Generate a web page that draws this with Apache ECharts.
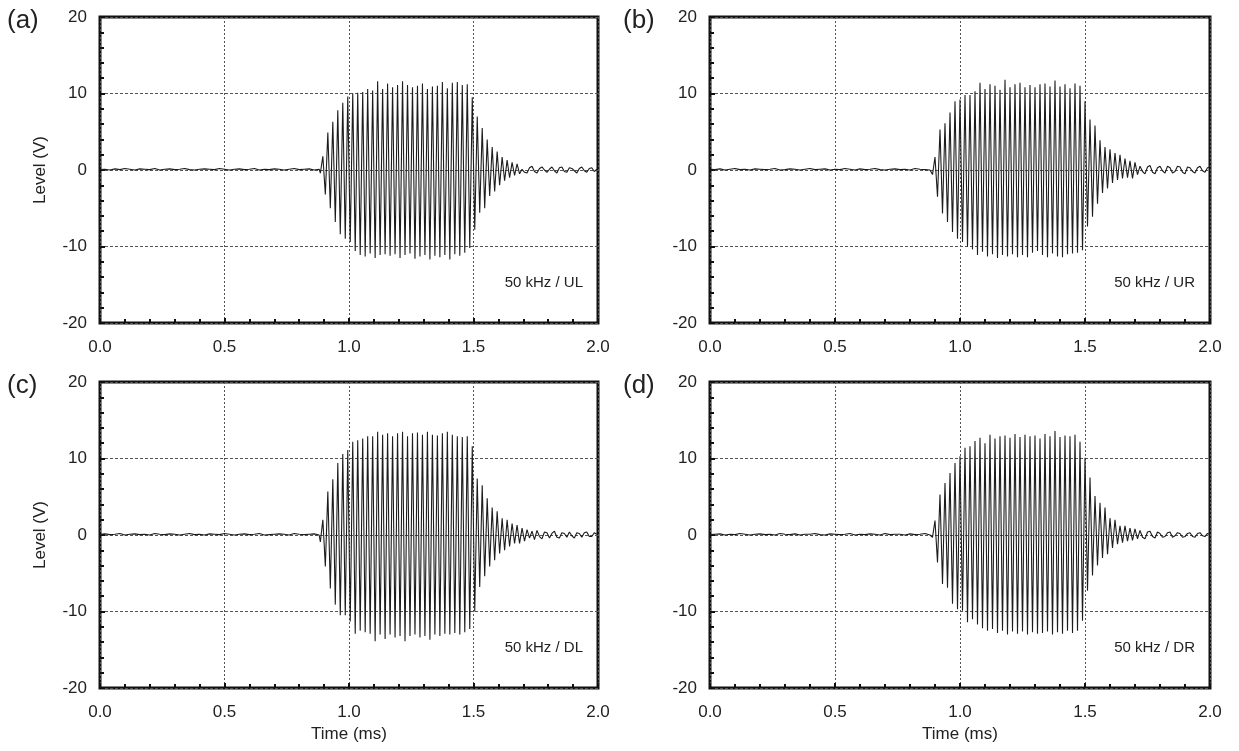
<!DOCTYPE html>
<html><head><meta charset="utf-8">
<script src="https://cdn.jsdelivr.net/npm/echarts@6/dist/echarts.min.js"></script>
<style>html,body{margin:0;padding:0;background:#fff}#c{width:1239px;height:751px}</style>
</head><body><div id="c"></div><script>
// ---- data (Level in V, time in ms) ----
const xTicks = [0.0, 0.5, 1.0, 1.5, 2.0];
const yTicks = [-20, -10, 0, 10, 20];
const panelLetters = ['(a)', '(b)', '(c)', '(d)'];
const panelNotes = ['50 kHz / UL', '50 kHz / UR', '50 kHz / DL', '50 kHz / DR'];
const noiseStep = 0.02;   // spacing of the pre-burst baseline samples (ms)
const sampleStep = 0.01;  // half period of the 50 kHz carrier (ms): one sample per peak / trough

// panel (a) UL
const noiseA = [0.05,0.1,0,0.15,0.05,0.2,0.1,0,0.15,0.1,0.05,0.2,0,0.1,0.15,0.05,0.1,0.2,0.05,0,0.1,0.15,0.1,0.05,0.2,0.1,0,0.1,0.15,0.05,0.1,0.2,0,0.1,0.05,0.15,0.1,0,0.1,0.2,0.05,0.1,0.15,0,0.1];
const startA = 0.885;
const burstA = [-0.4,1.8,-3.2,4.9,-5.0,6.3,-6.8,7.8,-8.4,8.8,-9.0,9.6,-9.4,10.0,-10.6,10.1,-11.1,10.2,-11.3,10.6,
 -10.9,10.4,-11.5,11.6,-11.1,10.6,-11.0,11.3,-11.2,10.8,-11.0,11.1,-11.5,11.6,-11.1,11.1,-10.9,10.8,-11.6,11.0,
 -11.3,11.3,-11.1,10.6,-11.7,10.9,-11.2,11.0,-11.4,11.5,-11.1,10.7,-11.7,11.4,-11.0,11.5,-11.2,11.1,-10.8,11.2,
 -10.2,9.5,-7.8,7.0,-5.6,5.5,-5.0,4.0,-3.4,3.0,-2.8,2.4,-2.0,1.7,-1.4,1.3,-1.0,1.0,-0.7,0.8,-0.5];
const tailA = [0.1,-0.3,-0.4,0.3,0.5,-0.2,-0.4,0.2,0.4,0,-0.3,0.1,0.4,-0.1,-0.4,0.3,0.4,-0.2,-0.3,0.3,0.2,-0.1,-0.4,0.2,0.4,-0.1,-0.3,0.2,0.3,-0.2,0.1];

// panel (b) UR
const noiseB = [0.1,0.05,0.15,0,0.1,0.2,0.05,0.1,0,0.15,0.1,0.05,0.1,0.2,0,0.05,0.15,0.1,0,0.1,0.2,0.05,0.1,0.15,0,0.1,0.05,0.2,0.1,0,0.15,0.05,0.1,0.2,0.05,0,0.1,0.15,0.05,0.1,0,0.2,0.1,0.05,0];
const startB = 0.89;
const burstB = [-0.6,1.7,-3.5,5.3,-5.7,6.1,-6.8,7.5,-8.1,9.0,-9.0,9.2,-9.4,9.8,-10.0,9.8,-10.4,10.3,-11.1,11.4,
 -10.7,10.6,-11.3,11.2,-11.0,11.0,-11.5,10.5,-11.1,11.8,-11.3,10.8,-11.0,11.2,-11.4,11.4,-11.1,10.8,-11.4,11.1,
 -10.8,10.8,-10.6,11.2,-11.1,11.3,-11.4,10.9,-10.9,11.7,-11.3,10.9,-11.4,11.2,-11.0,10.7,-10.9,11.3,-10.8,11.0,
 -10.5,9.0,-7.4,6.6,-6.1,5.8,-4.4,3.9,-3.0,3.0,-2.4,2.7,-1.7,2.2,-1.3,2.0,-1.1,1.5,-1.0,1.2,-1.1];
const tailB = [1.0,-0.6,0.5,-0.2,-0.5,0.4,0.6,-0.3,-0.5,0.3,0.5,-0.1,-0.4,0.5,0.3,-0.4,-0.2,0.5,0.4,-0.3,-0.5,0.4,0.3,-0.2,-0.4,0.3,0.5,-0.1,-0.3,0.3,0.4];

// panel (c) DL
const noiseC = [0.1,0.15,0.05,0.1,0.2,0,0.1,0.15,0.05,0.1,0,0.2,0.1,0.05,0.15,0.1,0,0.1,0.2,0.05,0.1,0,0.15,0.1,0.05,0.2,0.1,0,0.1,0.15,0.05,0.1,0.2,0,0.05,0.1,0.15,0.1,0,0.2,0.1,0.05,0.1,0.15,0];
const startC = 0.885;
const burstC = [-0.9,2.0,-4.1,5.7,-7.0,7.3,-9.1,9.4,-10.5,10.6,-10.5,11.1,-11.3,12.2,-12.9,12.4,-12.5,12.6,-12.7,12.9,
 -12.9,12.9,-13.9,13.5,-13.0,13.1,-13.6,13.3,-13.0,12.9,-13.4,13.3,-13.2,13.5,-13.9,12.9,-13.2,13.3,-13.0,13.4,
 -13.4,13.1,-13.2,13.5,-13.7,13.1,-13.0,13.0,-13.2,13.3,-12.9,13.5,-13.0,13.1,-12.8,12.9,-13.0,12.8,-12.7,12.9,
 -12.3,11.6,-10.0,7.4,-6.8,6.5,-5.4,4.8,-4.1,3.6,-3.3,3.1,-2.4,2.2,-2.0,2.0,-1.5,1.5,-1.1,1.3,-1.1];
const tailC = [0.9,-0.8,0.7,-0.4,0.5,-0.6,0.6,-0.2,-0.5,0.4,0.3,-0.4,0.2,0.5,-0.3,-0.4,0.3,0.2,-0.3,0.4,-0.1,-0.4,0.3,0.2,-0.3,0.3,0.4,-0.2,-0.2,0.3,0.1];

// panel (d) DR
const noiseD = [0.05,0.1,0.15,0,0.1,0.05,0.2,0.1,0,0.1,0.15,0.05,0.1,0,0.2,0.1,0.05,0.15,0,0.1,0.1,0.2,0.05,0,0.15,0.1,0.05,0.1,0.2,0,0.1,0.05,0.15,0.1,0,0.2,0.05,0.1,0.1,0,0.15,0.05,0.1,0.2,0];
const startD = 0.89;
const burstD = [-0.3,1.9,-3.6,5.3,-6.4,6.8,-6.9,8.1,-9.0,9.4,-9.7,10.3,-9.9,11.4,-11.4,11.6,-11.0,12.3,-11.7,12.7,
 -12.2,12.0,-12.5,13.1,-12.3,12.6,-12.8,12.9,-12.5,13.0,-13.0,12.7,-12.6,13.2,-12.9,12.8,-12.6,13.1,-13.0,12.9,
 -12.7,13.0,-12.9,12.6,-12.8,13.2,-12.6,12.9,-13.0,13.6,-12.7,12.8,-12.9,13.0,-12.5,12.9,-12.8,13.1,-12.5,12.2,
 -11.2,10.1,-7.3,7.5,-5.3,5.1,-4.0,4.2,-3.0,3.6,-2.5,2.2,-1.7,2.0,-1.2,1.2,-1.0,1.2,-0.8,0.9,-0.7];
const tailD = [0.8,-0.5,0.6,-0.3,-0.5,0.4,0.5,-0.2,-0.4,0.4,0.2,-0.3,-0.2,0.3,0.4,-0.3,-0.1,0.3,0.2,-0.3,-0.2,0.2,0.3,-0.2,-0.3,0.2,0.3,-0.1,-0.2,0.2,0.1];

// ---- build the point lists ----
function trace(noise, start, burst, tail) {
  const pts = [];
  noise.forEach((v, i) => pts.push([+(i * noiseStep).toFixed(4), v]));
  burst.forEach((v, i) => pts.push([+(start + i * sampleStep).toFixed(4), v]));
  const end = start + (burst.length - 1) * sampleStep;
  tail.forEach((v, i) => pts.push([+(end + (i + 1) * sampleStep).toFixed(4), v]));
  return pts;
}
const traces = [
  trace(noiseA, startA, burstA, tailA),
  trace(noiseB, startB, burstB, tailB),
  trace(noiseC, startC, burstC, tailC),
  trace(noiseD, startD, burstD, tailD)
];

// ---- layout ----
const grids = [
  {left: 100, top: 17, width: 498, height: 306},
  {left: 710, top: 17, width: 500, height: 306},
  {left: 100, top: 382, width: 498, height: 306},
  {left: 710, top: 382, width: 500, height: 306}
];
const FONT = 'Liberation Sans, Arial, sans-serif';
const txt = '#222';

const option = {
  animation: false,
  backgroundColor: '#fff',
  grid: grids.map(g => Object.assign({show: true, borderColor: '#111', borderWidth: 3, backgroundColor: 'transparent'}, g)),
  xAxis: grids.map((g, i) => ({
    type: 'value', gridIndex: i, min: xTicks[0], max: xTicks[xTicks.length - 1], interval: 0.5,
    name: i >= 2 ? 'Time (ms)' : '', nameLocation: 'middle', nameGap: 38,
    nameTextStyle: {fontFamily: FONT, fontSize: 17, color: txt},
    axisLine: {show: false, onZero: false},
    axisTick: {show: true, inside: true, length: 5, lineStyle: {color: '#111', width: 2}},
    minorTick: {show: true, splitNumber: 5, length: 4, lineStyle: {color: '#111', width: 2}},
    splitLine: {show: true, lineStyle: {color: '#555', width: 1, type: [2, 2]}},
    axisLabel: {fontFamily: FONT, fontSize: 17, color: txt, margin: 16, formatter: v => v.toFixed(1)}
  })),
  yAxis: grids.map((g, i) => ({
    type: 'value', gridIndex: i, min: yTicks[0], max: yTicks[yTicks.length - 1], interval: 10,
    name: i % 2 === 0 ? 'Level (V)' : '', nameLocation: 'middle', nameGap: 51,
    nameTextStyle: {fontFamily: FONT, fontSize: 17, color: txt},
    axisLine: {show: false, onZero: false},
    axisTick: {show: true, inside: true, length: 5, lineStyle: {color: '#111', width: 2}},
    minorTick: {show: true, splitNumber: 5, length: 4, lineStyle: {color: '#111', width: 2}},
    splitLine: {show: true, lineStyle: {color: '#555', width: 1, type: [3, 2]}},
    axisLabel: {fontFamily: FONT, fontSize: 17, color: txt, margin: 13}
  })),
  series: traces.map((d, i) => ({
    type: 'line', xAxisIndex: i, yAxisIndex: i, data: d,
    showSymbol: false, symbol: 'none', clip: true, smooth: false,
    lineStyle: {color: '#1c1c1c', width: 1.1}, z: 3
  })),
  graphic: [
    ...panelLetters.map((t, i) => ({
      type: 'text', x: i % 2 === 0 ? 7 : 623, y: i < 2 ? 21 : 386,
      style: {text: t, fontFamily: FONT, fontSize: 26, fill: txt, verticalAlign: 'middle'}
    })),
    ...panelNotes.map((t, i) => ({
      type: 'text', x: grids[i].left + grids[i].width - 15, y: grids[i].top + 266,
      style: {text: t, fontFamily: FONT, fontSize: 15, fill: txt, align: 'right', verticalAlign: 'middle'}
    }))
  ]
};
echarts.init(document.getElementById('c')).setOption(option);
</script></body></html>
